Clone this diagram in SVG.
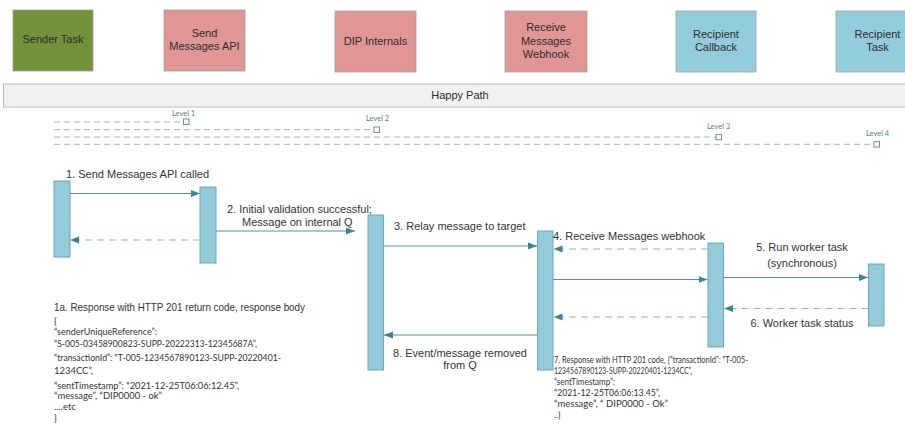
<svg xmlns="http://www.w3.org/2000/svg" width="905" height="428" viewBox="0 0 905 428">
<defs>
<style>
.hdr{stroke:#a0a0a0;stroke-width:0.8}
.green{fill:#71913a}
.pink{fill:#df9694}
.blue{fill:#93cddc}
.ht{font-family:"Liberation Sans",Arial,sans-serif;font-size:11px;fill:#2e2e2e;text-anchor:middle}
.act{fill:#93cbd9;stroke:#6aa8ba;stroke-width:1}
.lbl{font-family:"Liberation Sans",Arial,sans-serif;font-size:11px;fill:#333}
.mid{text-anchor:middle}
.json{font-family:Lato,"Open Sans",sans-serif;font-size:9.5px;fill:#333}
.j7{font-size:8.5px}
.lvl{fill:none;stroke:#a8b2ba;stroke-width:1;stroke-dasharray:6,4}
.sq{fill:#fff;stroke:#5b8798;stroke-width:0.9}
.lvt{font-family:Lato,"Open Sans",sans-serif;font-size:7.5px;fill:#4e7f91}
.sol{fill:none;stroke:#4d93a7;stroke-width:1.2;marker-end:url(#ah)}
.dsh{fill:none;stroke:#86b6c4;stroke-width:1.2;stroke-dasharray:7,5;marker-end:url(#ah)}
</style>
<marker id="ah" markerUnits="userSpaceOnUse" markerWidth="10" markerHeight="8" refX="9" refY="4" orient="auto">
<path d="M0,0.5 L9,4 L0,7.5 Z" fill="#3e8499"/>
</marker>
</defs>
<rect width="905" height="428" fill="#fff"/>

<g id="sender-task">
<rect class="hdr green" x="13" y="10" width="80" height="61"/>
<text class="ht" x="53" y="43">Sender  Task</text>
</g>
<g id="send-messages-api">
<rect class="hdr pink" x="164" y="10" width="81" height="61"/>
<text class="ht" x="204.5" y="37">Send</text>
<text class="ht" x="204.5" y="50">Messages API</text>
</g>
<g id="dip-internals">
<rect class="hdr pink" x="335" y="11" width="81" height="61"/>
<text class="ht" x="375.5" y="45">DIP Internals</text>
</g>
<g id="receive-messages-webhook">
<rect class="hdr pink" x="505" y="11" width="82" height="61"/>
<text class="ht" x="546" y="31">Receive</text>
<text class="ht" x="546" y="44.5">Messages</text>
<text class="ht" x="546" y="57.5">Webhook</text>
</g>
<g id="recipient-callback">
<rect class="hdr blue" x="676" y="11" width="80" height="61"/>
<text class="ht" x="716" y="38">Recipient</text>
<text class="ht" x="716" y="50.5">Callback</text>
</g>
<g id="recipient-task">
<rect class="hdr blue" x="836" y="11" width="82" height="61"/>
<text class="ht" x="877.5" y="38">Recipient</text>
<text class="ht" x="877.5" y="50.5">Task</text>
</g>

<g id="happy-path">
<rect x="3.5" y="84" width="910" height="23" fill="#f1f1f1" stroke="#a9bccb" stroke-width="1"/>
<text class="ht" x="460" y="99">Happy Path</text>
</g>

<g id="levels">
<line class="lvl" x1="54" y1="122" x2="183" y2="122"/>
<rect class="sq" x="183.5" y="119" width="5.5" height="5.5"/>
<text class="lvt" x="172" y="116">Level 1</text>
<line class="lvl" x1="54" y1="129.7" x2="374" y2="129.7"/>
<rect class="sq" x="374" y="127" width="5.5" height="5.5"/>
<text class="lvt" x="366" y="121">Level 2</text>
<line class="lvl" x1="54" y1="137" x2="716" y2="137"/>
<rect class="sq" x="716" y="134.3" width="5.5" height="5.5"/>
<text class="lvt" x="707" y="129">Level 3</text>
<line class="lvl" x1="54" y1="144.3" x2="874" y2="144.3"/>
<rect class="sq" x="874" y="141.6" width="5.5" height="5.5"/>
<text class="lvt" x="866" y="136">Level 4</text>
</g>

<g id="activation-sender"><rect class="act" x="54" y="181" width="16" height="76"/></g>
<g id="activation-api"><rect class="act" x="200" y="187" width="16" height="76"/></g>
<g id="activation-dip"><rect class="act" x="368" y="215" width="15.5" height="155"/></g>
<g id="activation-webhook"><rect class="act" x="537.5" y="231" width="15.5" height="139"/></g>
<g id="activation-callback"><rect class="act" x="708" y="243" width="15.5" height="104"/></g>
<g id="activation-task"><rect class="act" x="868.5" y="264" width="15.5" height="62"/></g>

<g id="connectors">
<line class="sol" x1="70" y1="193.5" x2="200" y2="193.5"/>
<line class="dsh" x1="200" y1="240" x2="70" y2="240"/>
<line class="sol" x1="216" y1="231" x2="355" y2="231"/>
<line class="sol" x1="383.5" y1="246" x2="537" y2="246"/>
<line class="dsh" x1="708" y1="249" x2="553.5" y2="249"/>
<line class="sol" x1="553" y1="279.5" x2="707.5" y2="279.5"/>
<line class="dsh" x1="708" y1="317" x2="553.5" y2="317"/>
<line class="sol" x1="723.5" y1="277.5" x2="868" y2="277.5"/>
<line class="dsh" x1="868.5" y1="308.5" x2="724" y2="308.5"/>
<line class="sol" x1="537.5" y1="335" x2="384" y2="335"/>
</g>

<g id="labels">
<text class="lbl" x="66" y="178">1. Send Messages API called</text>
<text class="lbl" x="227" y="213">2. Initial validation successful;</text>
<text class="lbl" x="242" y="226">Message on internal Q</text>
<text class="lbl" x="394" y="230">3. Relay message to target</text>
<text class="lbl" x="553" y="240">4. Receive Messages webhook</text>
<text class="lbl mid" x="802" y="251">5. Run worker task</text>
<text class="lbl mid" x="802" y="266.5">(synchronous)</text>
<text class="lbl mid" x="802" y="326.5">6. Worker task status</text>
<text class="lbl mid" x="460" y="357">8. Event/message removed</text>
<text class="lbl mid" x="460" y="369">from Q</text>
</g>

<g id="note-1a">
<text class="lbl" x="54" y="311" textLength="251" lengthAdjust="spacingAndGlyphs">1a. Response with HTTP 201 return code, response body</text>
<text class="json" x="54" y="324">{</text>
<text class="json" x="54" y="335" textLength="103" lengthAdjust="spacingAndGlyphs">“senderUniqueReference”:</text>
<text class="json" x="54" y="347" textLength="203" lengthAdjust="spacingAndGlyphs">“S-005-03458900823-SUPP-20222313-12345687A”,</text>
<text class="json" x="54" y="361" textLength="227" lengthAdjust="spacingAndGlyphs">“transactionId”: “T-005-1234567890123-SUPP-20220401-</text>
<text class="json" x="54" y="374" textLength="39" lengthAdjust="spacingAndGlyphs">1234CC”,</text>
<text class="json" x="54" y="389" textLength="185" lengthAdjust="spacingAndGlyphs">“sentTimestamp”:  “2021-12-25T06:06:12.45”,</text>
<text class="json" x="54" y="399" textLength="108" lengthAdjust="spacingAndGlyphs">“message”, “DIP0000 - ok”</text>
<text class="json" x="54" y="410">....etc</text>
<text class="json" x="54" y="421">}</text>
</g>

<g id="note-7">
<text class="json j7" x="554" y="363" textLength="194" lengthAdjust="spacingAndGlyphs">7. Response with HTTP 201 code, {“transactionId”: “T-005-</text>
<text class="json j7" x="554" y="374" textLength="138" lengthAdjust="spacingAndGlyphs">1234567890123-SUPP-20220401-1234CC”,</text>
<text class="json j7" x="554" y="385" textLength="61" lengthAdjust="spacingAndGlyphs">“sentTimestamp”:</text>
<text class="json j7" x="554" y="396" textLength="106" lengthAdjust="spacingAndGlyphs">“2021-12-25T06:06:13.45”,</text>
<text class="json j7" x="554" y="407" textLength="114" lengthAdjust="spacingAndGlyphs">“message”, “ DIP0000 - Ok”</text>
<text class="json j7" x="554" y="418">..}</text>
</g>
</svg>
